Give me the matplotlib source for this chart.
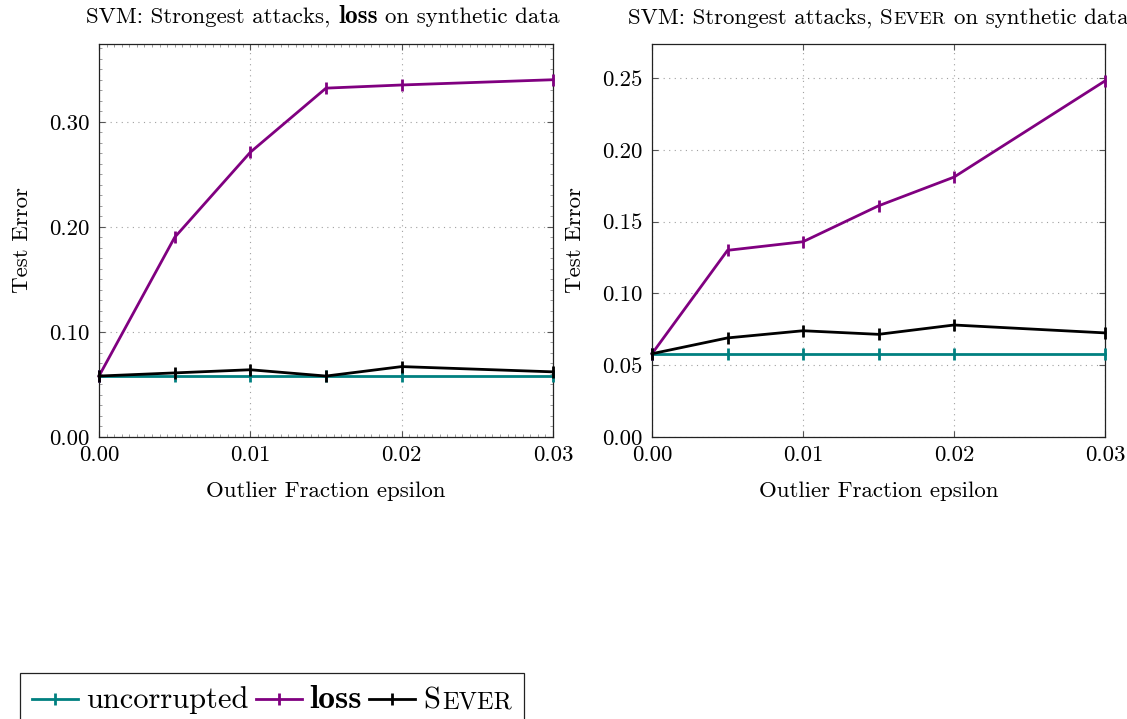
import matplotlib
matplotlib.use("Agg")
import matplotlib.pyplot as plt
from matplotlib.lines import Line2D
from matplotlib.offsetbox import TextArea, HPacker, DrawingArea, AnchoredOffsetbox
from matplotlib.ticker import MultipleLocator, FormatStrFormatter

plt.rcParams["font.family"] = ["cmr10", "DejaVu Serif"]
plt.rcParams["mathtext.fontset"] = "cm"
plt.rcParams["axes.unicode_minus"] = False

# ---- data -------------------------------------------------------------
epsilon = [0.0, 0.005, 0.01, 0.015, 0.02, 0.03]

# panel 1: attack tuned against the loss defence
p1_uncorrupted = [0.058, 0.058, 0.058, 0.058, 0.058, 0.058]
p1_loss = [0.058, 0.190, 0.271, 0.332, 0.335, 0.340]
p1_sever = [0.058, 0.061, 0.064, 0.058, 0.067, 0.062]

# panel 2: attack tuned against Sever
p2_uncorrupted = [0.058, 0.058, 0.058, 0.058, 0.058, 0.058]
p2_loss = [0.058, 0.130, 0.136, 0.161, 0.181, 0.248]
p2_sever = [0.058, 0.069, 0.074, 0.0715, 0.078, 0.0725]

x_ticks = [0.0, 0.01, 0.02, 0.03]
p1_y_ticks = [0.0, 0.1, 0.2, 0.3]
p2_y_ticks = [0.0, 0.05, 0.10, 0.15, 0.20, 0.25]

TEAL = "#008080"
PURPLE = "#800080"
BLACK = "#000000"

W, H = 1127, 719
FS = 16.5        # axis text size
LEG_FS = 22      # legend text size
SC = 0.8         # small-caps scale
BOLD_SC = 1.1    # bold face is narrower than the extended bold, so enlarge it a bit

fig = plt.figure(figsize=(W / 100, H / 100), dpi=100)
ax1 = fig.add_axes([99 / W, 1 - 437 / H, 454 / W, 393 / H])
ax2 = fig.add_axes([652 / W, 1 - 437 / H, 453 / W, 393 / H])


def draw_panel(ax, unc, loss, sev, yticks, ymax, minor):
    series = [(unc, TEAL), (loss, PURPLE), (sev, BLACK)]
    for z, (vals, col) in enumerate(series):
        ax.plot(epsilon, vals, color=col, lw=2.0, marker="|", ms=8, mew=2.0,
                clip_on=False, zorder=3 + z)
    ax.set_xlim(0, 0.03)
    ax.set_ylim(0, ymax)
    ax.set_xticks(x_ticks)
    ax.set_yticks(yticks)
    ax.xaxis.set_major_formatter(FormatStrFormatter("%.2f"))
    ax.yaxis.set_major_formatter(FormatStrFormatter("%.2f"))
    if minor:
        ax.yaxis.set_minor_locator(MultipleLocator(0.01))
        ax.xaxis.set_minor_locator(MultipleLocator(0.0005))
        ax.tick_params(which="minor", direction="in", length=2, width=0.5,
                       color="#777777", top=True, right=True)
    ax.tick_params(which="major", direction="in", length=4, width=0.8,
                   color="#555555", top=True, right=True, labelsize=FS)
    ax.tick_params(axis="y", which="major", pad=7)
    ax.tick_params(axis="x", which="major", pad=6)
    ax.grid(True, which="major", color="#a0a0a0", lw=0.8,
            linestyle=(0, (1, 4)))
    ax.set_axisbelow(True)
    for sp in ax.spines.values():
        sp.set_linewidth(0.9)
        sp.set_color("#222222")
    ax.set_xlabel("Outlier Fraction epsilon", fontsize=FS)
    ax.set_ylabel("Test Error", fontsize=FS)
    ax.xaxis.set_label_coords(0.5, -0.114)
    ax.yaxis.set_label_coords(-0.148, 0.5)


draw_panel(ax1, p1_uncorrupted, p1_loss, p1_sever, p1_y_ticks, 0.374, True)
draw_panel(ax2, p2_uncorrupted, p2_loss, p2_sever, p2_y_ticks, 0.2737, False)


def txt(s, size, family="cmr10"):
    return TextArea(s, textprops=dict(fontsize=size, fontfamily=family))


def small_caps(first, rest, size, sep=0.8):
    return HPacker(children=[txt(first, size), txt(rest, size * SC)],
                   align="baseline", pad=0, sep=sep)


def place_title(children, cx):
    row = HPacker(children=children, align="baseline", pad=0, sep=5.5)
    box = AnchoredOffsetbox(loc="lower center", child=row, pad=0, borderpad=0,
                            frameon=False, bbox_to_anchor=(cx / W, 1 - 28 / H),
                            bbox_transform=fig.transFigure)
    fig.add_artist(box)


place_title([txt("SVM: Strongest attacks,", FS),
             txt("loss", FS * BOLD_SC, "cmb10"),
             txt("on synthetic data", FS)], 323)
place_title([txt("SVM: Strongest attacks,", FS),
             small_caps("S", "EVER", FS),
             txt("on synthetic data", FS)], 878)


def legend_handle(color):
    da = DrawingArea(33, 14, 0, 0)
    da.add_artist(Line2D([0, 33], [6.5, 6.5], color=color, lw=2.0))
    da.add_artist(Line2D([16.5], [6.5], color=color, marker="|", ms=8,
                         mew=2.0, lw=0))
    return da


legend_row = HPacker(children=[legend_handle(TEAL), txt("uncorrupted", LEG_FS),
                               legend_handle(PURPLE),
                               txt("loss", LEG_FS * BOLD_SC, "cmb10"),
                               legend_handle(BLACK),
                               small_caps("S", "EVER", LEG_FS, sep=1.5)],
                     align="baseline", pad=0, sep=5.5)
legend = AnchoredOffsetbox(loc="upper left", child=legend_row, pad=0.4,
                           borderpad=0, frameon=True, prop=dict(size=LEG_FS),
                           bbox_to_anchor=(20 / W, 1 - 673 / H),
                           bbox_transform=fig.transFigure)
legend.patch.set_boxstyle("square", pad=0)
legend.patch.set_edgecolor("#222222")
legend.patch.set_linewidth(0.9)
fig.add_artist(legend)

fig.savefig("out.png", dpi=100)
